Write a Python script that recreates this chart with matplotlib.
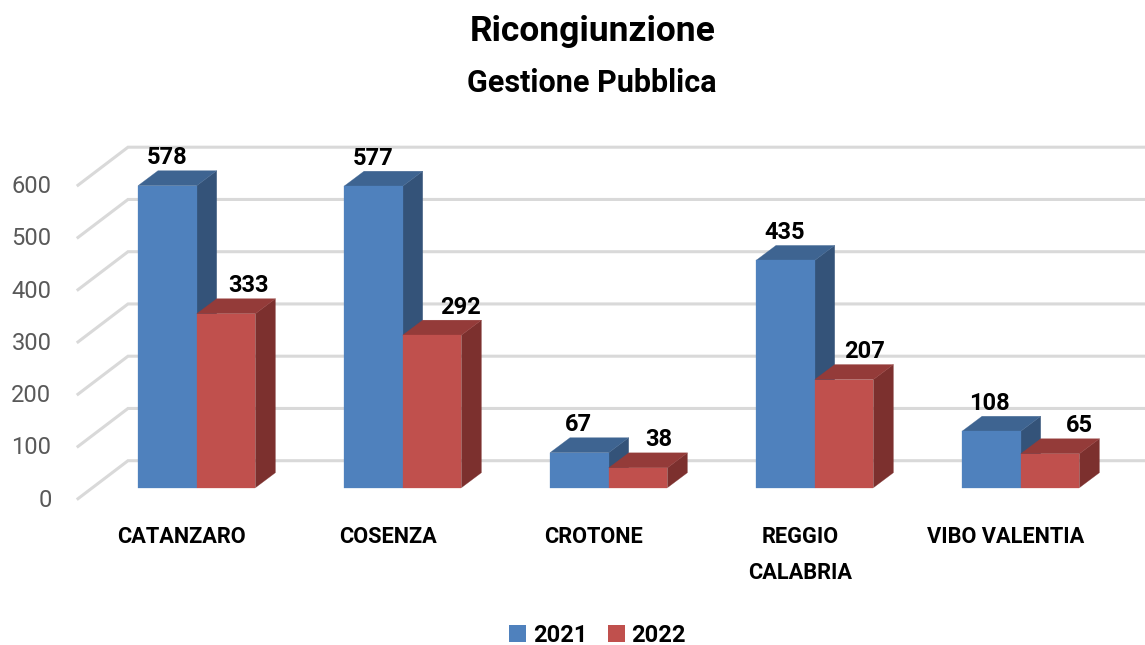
import matplotlib
matplotlib.use("Agg")
import matplotlib.pyplot as plt
from matplotlib.patches import Polygon, Patch

categories = ["CATANZARO", "COSENZA", "CROTONE", "REGGIO\nCALABRIA", "VIBO VALENTIA"]
values_2021 = [578, 577, 67, 435, 108]
values_2022 = [333, 292, 38, 207, 65]
y_ticks = [0, 100, 200, 300, 400, 500, 600]

W, H = 1145, 645
BAR_W = 58.7 / 206    # in category units
PX_X = 1 / 206        # one pixel in x data units
PX_Y = 1 / 0.5225     # one pixel in y data units
BASE_PY = 487.7
LEFT_PX = 196.7

# label shift of the red bars, the chart puts them off centre
shift_2022 = [22, 28, 21, 21, 29]
shift_2021 = [0, 0, -1, -1, -2]

BLUE = ("#4F81BD", "#3E6491", "#345379")
RED = ("#C0504D", "#943B39", "#7C302E")
FONT = "Roboto"

plt.rcParams["font.family"] = [FONT, "DejaVu Sans"]

fig = plt.figure(figsize=(W / 100, H / 100), dpi=100)
ax = fig.add_axes([0, 0, 1, 1])
ax.set_xlim(-LEFT_PX * PX_X, (W - LEFT_PX) * PX_X)
ax.set_ylim((BASE_PY - H) * PX_Y, BASE_PY * PX_Y)
ax.axis("off")


def bar3d(x0, val, cols, z):
    # front, then top and side shifted by the bar depth
    dx, dy = 20 * PX_X, 15 * PX_Y
    x1 = x0 + BAR_W
    front = [(x0, 0), (x1, 0), (x1, val), (x0, val)]
    top = [(x0, val), (x1, val), (x1 + dx, val + dy), (x0 + dx, val + dy)]
    side = [(x1, 0), (x1 + dx, dy), (x1 + dx, val + dy), (x1, val)]
    for pts, c in zip((side, top, front), (cols[2], cols[1], cols[0])):
        ax.add_patch(Polygon(pts, closed=True, facecolor=c, edgecolor=c, linewidth=0.2, zorder=z))


# floor and back wall grid
wall_dx, wall_dy = 50 * PX_X, 38 * PX_Y
left_x = (78 - LEFT_PX) * PX_X
front_drop = -11 * PX_Y
for t in y_ticks:
    y0 = t + front_drop
    y1 = y0 + wall_dy
    ax.plot([left_x, left_x + wall_dx, (W + 5 - LEFT_PX) * PX_X], [y0, y1, y1],
            color="#D9D9D9", linewidth=2.2, solid_joinstyle="miter", zorder=1)
    ax.text((51.5 - LEFT_PX) * PX_X, y0 - 1.5 * PX_Y, str(t), ha="right", va="center",
            fontsize=17, color="#595959", zorder=5)

for i, cat in enumerate(categories):
    bar3d(i - BAR_W, values_2021[i], BLUE, 2 + i * 2)
    bar3d(i, values_2022[i], RED, 3 + i * 2)
    ax.text(i - BAR_W / 2 + shift_2021[i] * PX_X, values_2021[i] + 28 * PX_Y, str(values_2021[i]),
            ha="center", va="center", fontsize=17, fontweight="bold", color="black", zorder=20)
    ax.text(i + BAR_W / 2 + shift_2022[i] * PX_X, values_2022[i] + 28 * PX_Y, str(values_2022[i]),
            ha="center", va="center", fontsize=17, fontweight="bold", color="black", zorder=20)
    lines = cat.split("\n")
    for k, line in enumerate(lines):
        ax.text(i - 15 * PX_X, (BASE_PY - 537 - 36 * k) * PX_Y, line,
                ha="center", va="center", fontsize=15.7, fontweight="bold", color="black", zorder=20)

fig.text(592.5 / W, 1 - 31.5 / H, "Ricongiunzione", ha="center", va="center",
         fontsize=25.5, fontweight="bold", color="black")
fig.text(592 / W, 1 - 82.5 / H, "Gestione Pubblica", ha="center", va="center",
         fontsize=22, fontweight="bold", color="black")

handles = [Patch(facecolor=BLUE[0], label="2021"), Patch(facecolor=RED[0], label="2022")]
leg = fig.legend(handles=handles, loc="center", bbox_to_anchor=(597.5 / W, 1 - 635 / H), ncol=2,
                 frameon=False, prop={"family": FONT, "weight": "bold", "size": 17},
                 handlelength=0.72, handleheight=0.72, handletextpad=0.29, columnspacing=0.86,
                 borderpad=0, borderaxespad=0)

fig.savefig("out.png", dpi=100)
